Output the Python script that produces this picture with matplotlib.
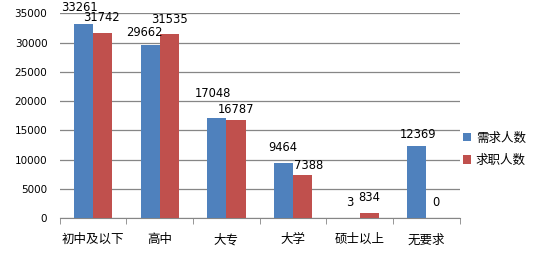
import matplotlib
matplotlib.use('Agg')
import matplotlib.pyplot as plt
import numpy as np

plt.rcParams['font.family'] = ['DejaVu Sans', 'Noto Sans CJK SC']

categories = ['初中及以下', '高中', '大专', '大学', '硕士以上', '无要求']
demand = [33261, 29662, 17048, 9464, 3, 12369]
seekers = [31742, 31535, 16787, 7388, 834, 0]
series_names = ['需求人数', '求职人数']
colors = ['#4F81BD', '#C0504D']

# label nudges in pixels (dx, dy), as placed in the original chart
nudge_demand = [(-4, 10), (-6, 6), (-4, 18), (-1, 9), (0, 9), (1, 5)]
nudge_seekers = [(-1, 9), (0, 8), (0, 4), (6, 3), (0, 9), (0, 9)]

fig = plt.figure(figsize=(5.34, 2.64), dpi=100)
ax = fig.add_axes([0.112, 0.174, 0.749, 0.775])

x = np.arange(len(categories))
w = 0.2857
b1 = ax.bar(x - w / 2, demand, w, color=colors[0], label=series_names[0], zorder=3)
b2 = ax.bar(x + w / 2, seekers, w, color=colors[1], label=series_names[1], zorder=3)

# data labels
for bars, nudges in ((b1, nudge_demand), (b2, nudge_seekers)):
    for r, (dx, dy) in zip(bars, nudges):
        v = r.get_height()
        ax.annotate(str(int(v)), (r.get_x() + r.get_width() / 2, v),
                    xytext=(dx, dy), textcoords='offset pixels',
                    ha='center', va='bottom', fontsize=8.3, color='black')

ax.set_xlim(-0.5, len(categories) - 0.5)
ax.set_ylim(0, 35000)
ax.set_yticks(np.arange(0, 35001, 5000))
ax.yaxis.grid(True, color='#868686', linewidth=0.9, zorder=0)
ax.tick_params(axis='y', length=0, labelsize=7.5, pad=9)

ax.set_xticks(x)
ax.set_xticklabels(categories, fontsize=9, family=['Noto Sans CJK SC'])
ax.set_xticks(np.arange(-0.5, len(categories)), minor=True)
ax.tick_params(axis='x', which='major', length=0, pad=11)
ax.tick_params(axis='x', which='minor', length=4, color='#868686', direction='out')

for s in ('top', 'right', 'left'):
    ax.spines[s].set_visible(False)
ax.spines['bottom'].set_color('#868686')

leg = ax.legend(loc='center left', bbox_to_anchor=(0.99, 0.337), frameon=False,
                prop={'family': 'Noto Sans CJK SC', 'size': 9},
                handlelength=0.65, handleheight=0.65, handletextpad=0.35,
                labelspacing=0.75, borderaxespad=0.2)

fig.savefig('out.png', dpi=100)
